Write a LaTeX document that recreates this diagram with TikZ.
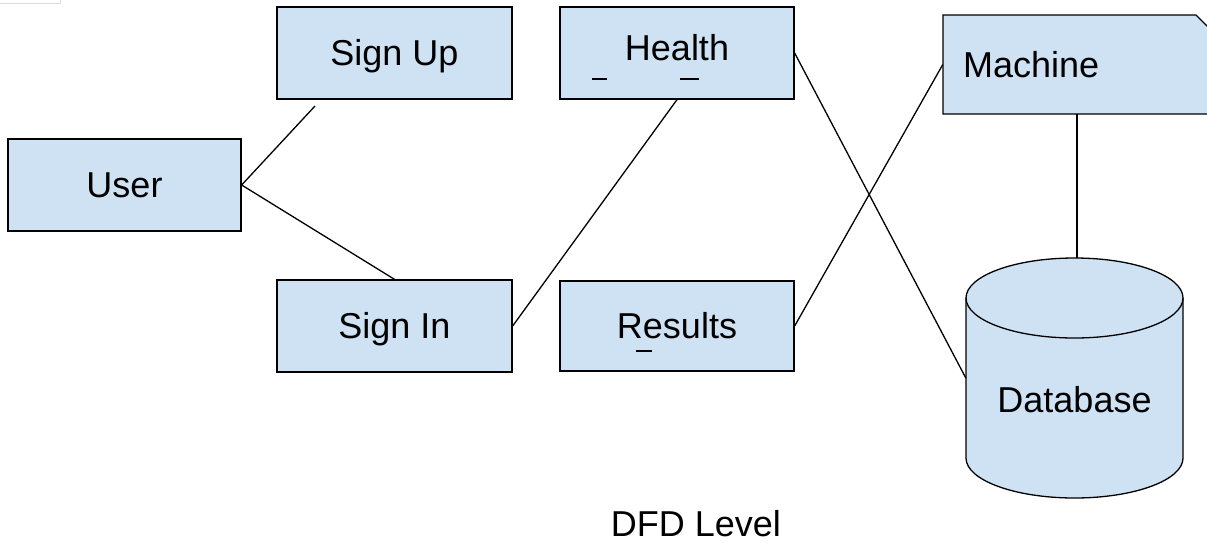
\documentclass[tikz,border=0pt]{standalone}
\usepackage{fontspec}
\setmainfont{Liberation Sans}
\definecolor{boxblue}{HTML}{CFE2F3}
\newcommand{\fsz}{\fontsize{36}{40}\selectfont}
\tikzset{
  shapeline/.style={draw=black, fill=boxblue, line width=1.3pt},
  box/.style={shapeline, inner sep=0pt, font=\fsz, text height=25.5pt, text depth=0pt, minimum height=92pt},
  txt/.style={font=\fsz, inner sep=0pt, text height=25.5pt, text depth=0pt},
  conn/.style={draw=black, line width=1.3pt},
  mark line/.style={draw=black, line width=1.3pt}
}
\begin{document}
\begin{tikzpicture}[x=1pt, y=-1pt]
\useasboundingbox (0,0) rectangle (1207,542);
\clip (0,0) rectangle (1207,542);
\fill[white] (0,0) rectangle (1207,542);
\draw[black!15, line width=1pt] (0,3) -- (60,3) -- (60,0);

% boxes
\node[box, minimum width=233pt] (user) at (124.5,185) {User};
\node[box, minimum width=235pt] (signup) at (394.5,53) {Sign Up};
\node[box, minimum width=235pt] (signin) at (394.5,326) {Sign In};
\node[box, minimum width=234pt, text depth=11pt] (health) at (677,53) {Health};
\node[box, minimum width=234pt, minimum height=90pt] (results) at (677,326) {Results};
\draw[mark line] (592,79) -- (607,79);
\draw[mark line] (680,79) -- (699,79);
\draw[mark line] (636,351) -- (652,351);

% machine (cut corner)
\path[shapeline] (943,114) -- (943,15) -- (1196,15) -- (1215,34) -- (1215,114) -- cycle;
\node[txt, minimum width=268pt, minimum height=99pt, text width=228pt, align=left] (machine) at (1077,64.5) {Machine};

% database cylinder
\node[inner sep=0pt, minimum width=217pt, minimum height=240pt] (db) at (1074.5,378) {};
\path[fill=boxblue] (966,298) -- (966,458) arc[start angle=180, end angle=360, x radius=108.5pt, y radius=40pt] -- (1183,298) arc[start angle=0, end angle=180, x radius=108.5pt, y radius=40pt] -- cycle;
\draw[line width=1.3pt] (966,298) -- (966,458) arc[start angle=180, end angle=360, x radius=108.5pt, y radius=40pt] -- (1183,298);
\draw[line width=1.3pt] (1074.5,298) ellipse[x radius=108.5pt, y radius=40pt];
\node[txt] (dblabel) at (1074.5,399.5) {Database};

% title
\node[txt] (title) at (696,523.5) {DFD Level};

% connectors
\coordinate (suend) at (315,106);
\draw[conn] (user.east) -- (suend);
\draw[conn] (user.east) -- (signin.north);
\draw[conn] (signin.east) -- (health.south);
\draw[conn] (health.east) -- (db.west);
\draw[conn] (results.east) -- (machine.west);
\draw[conn] (machine.south) -- (machine.south |- db.north);
\end{tikzpicture}
\end{document}
